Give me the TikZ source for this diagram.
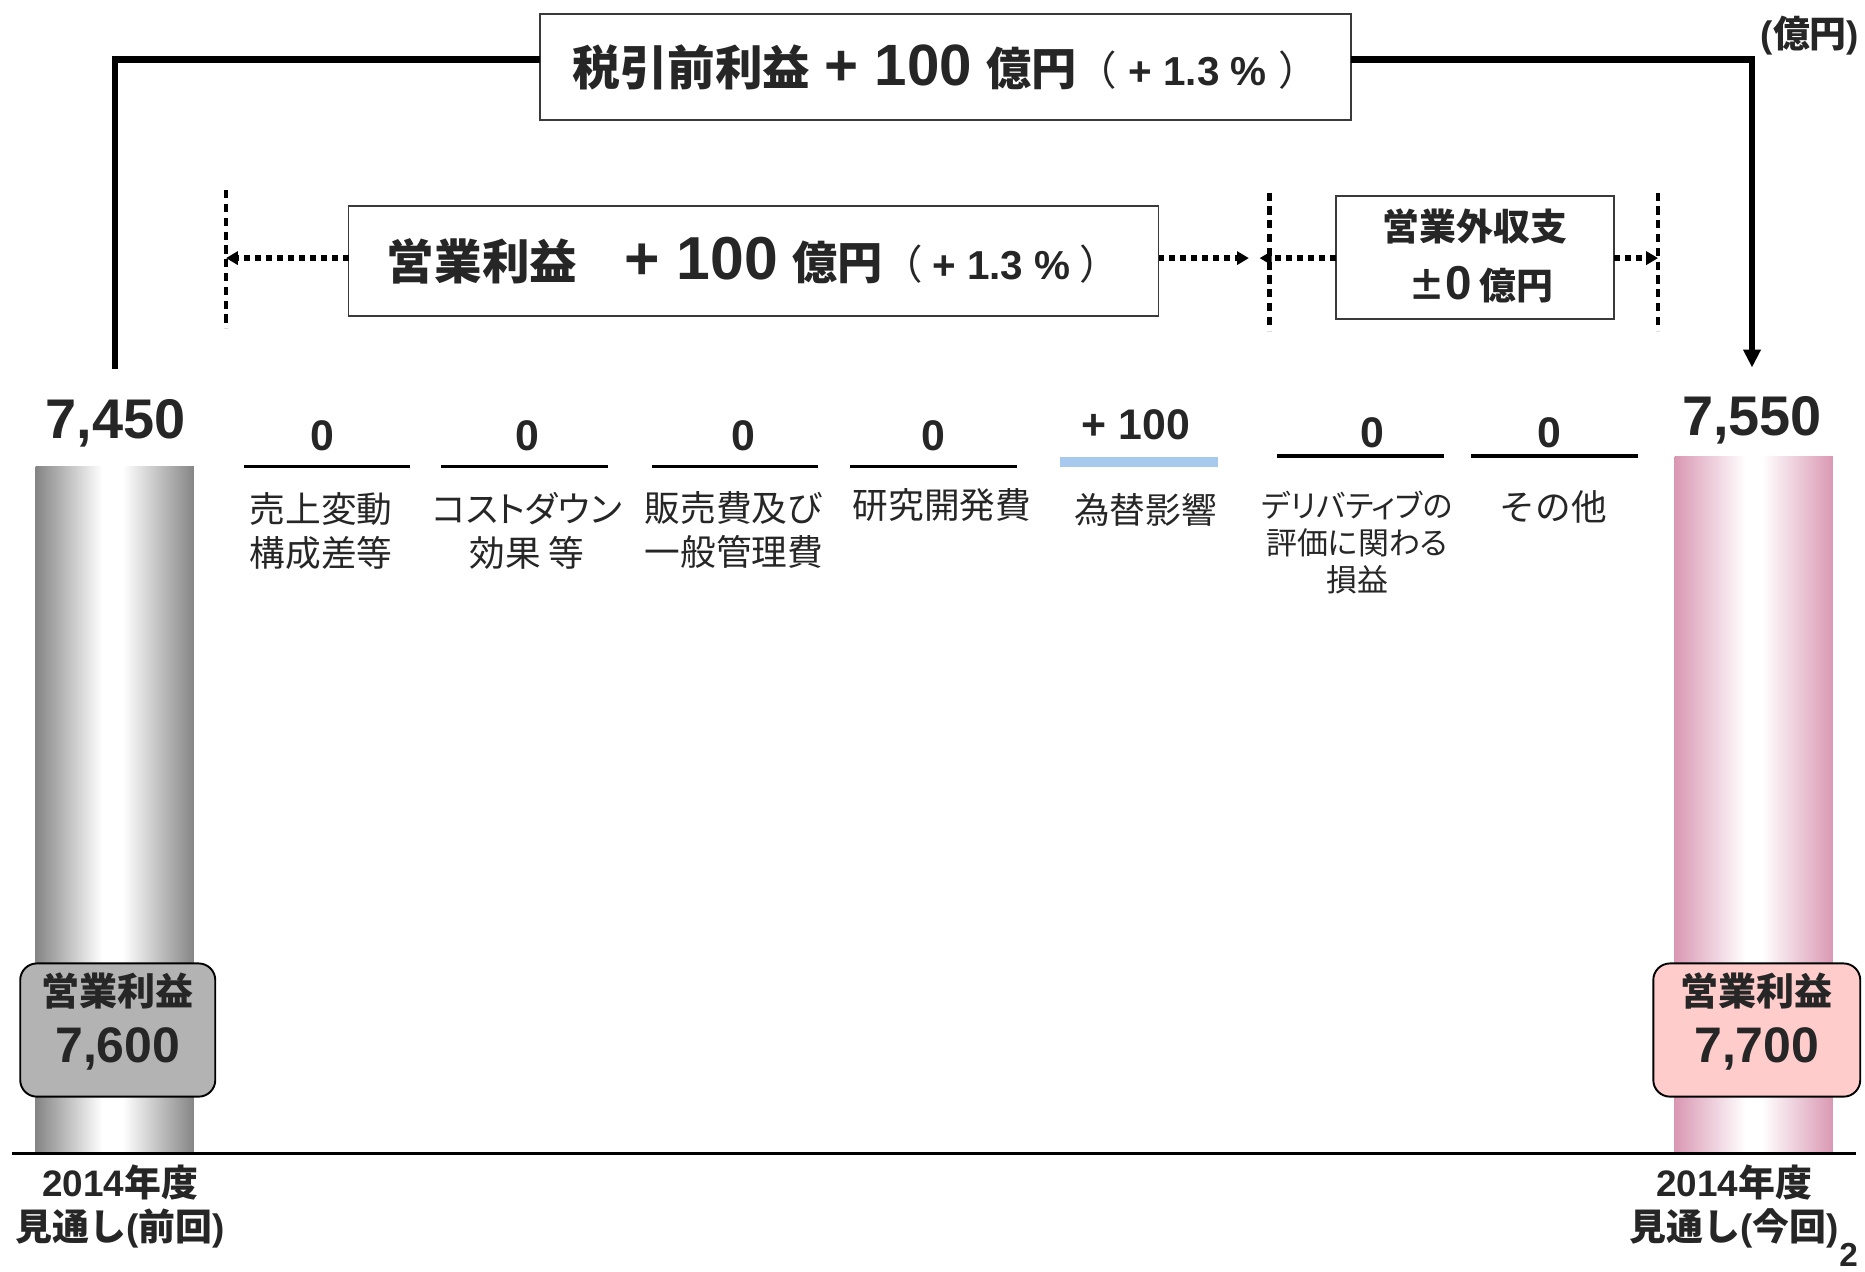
\documentclass[tikz,border=0pt]{standalone}
\usepackage{fontspec}
\setmainfont{Noto Sans CJK JP}
\newfontfamily\ar{Liberation Sans}
\newfontfamily\jpp{Noto Sans CJK JP}[RawFeature=+palt]
\usetikzlibrary{arrows.meta}
\definecolor{txt}{HTML}{262626}
\definecolor{barg}{HTML}{858585}
\definecolor{barp}{HTML}{DA98B2}
\definecolor{fxblue}{HTML}{A7C9EE}
\definecolor{lblg}{HTML}{B3B3B3}
\definecolor{lblp}{HTML}{FFCCCC}
\definecolor{boxline}{HTML}{3A3A3A}
\pgfdeclarehorizontalshading{graybar}{100bp}{color(0bp)=(barg); color(25bp)=(barg); color(46bp)=(white); color(52.5bp)=(white); color(75bp)=(barg); color(100bp)=(barg)}
\pgfdeclarehorizontalshading{pinkbar}{100bp}{color(0bp)=(barp); color(25bp)=(barp); color(47.5bp)=(white); color(52.5bp)=(white); color(75bp)=(barp); color(100bp)=(barp)}
\newcommand\fsz[2]{\fontsize{#1}{#2}\selectfont}
\begin{document}
\begin{tikzpicture}[x=0.5pt,y=-0.5pt,
  every node/.style={text=txt, inner sep=0pt, outer sep=0pt},
  bigbox/.style={draw=boxline, line width=0.8pt, fill=white},
  bracket/.style={line width=2.6pt, draw=black},
  dotv/.style={line width=2pt, dash pattern=on 3.4pt off 2.4pt},
  dota/.style={line width=2.2pt, dash pattern=on 2.4pt off 2.2pt, -{Triangle[length=5pt,width=5.5pt]}},
  uline/.style={line width=1.4pt},
  lbl/.style={font=\fsz{15pt}{18.5pt}, align=center},
  lblsmall/.style={font=\jpp\fsz{13pt}{15.5pt}, align=center},
  val/.style={font=\ar\bfseries\fsz{18pt}{21pt}},
  total/.style={font=\ar\bfseries\fsz{23.5pt}{27pt}},
  tagbox/.style={draw=black, line width=0.8pt, rounded corners=7pt},
  yearlbl/.style={font=\bfseries\fsz{15.5pt}{18.5pt}, align=center},
]
\useasboundingbox (0,0) rectangle (1568,1069.4);

% ---- top: pre-tax box and bracket
\node[bigbox, minimum width=341pt, minimum height=44.5pt] (pretax) at (795,56.5)
  {{\bfseries\fsz{20pt}{24pt}税引前利益}\hspace{6pt}{\ar\bfseries\fsz{24.5pt}{28pt}+ 100}\hspace{6pt}{\bfseries\fsz{19pt}{22pt}億円}{\fsz{17pt}{20pt}（{\ar\bfseries\ + 1.3 \%\ }）}};
\node[anchor=east, font=\bfseries\fsz{15.5pt}{18pt}] (unit) at (1563,30) {{\ar(}億円{\ar)}};

\coordinate (L0) at (97,310);
\coordinate (L1) at (97,50);
\coordinate (R1) at (1473,50);
\coordinate (R0) at (1473,309);
\draw[bracket] (L0) -- (L1) -- (L1 -| pretax.west);
\draw[bracket, -{Triangle[length=7.5pt,width=7pt]}] (R1 -| pretax.east) -- (R1) -- (R0);

% ---- second row
\node[bigbox, minimum width=340.5pt, minimum height=46.5pt] (opbox) at (633.5,219.5)
  {{\bfseries\fsz{20pt}{24pt}営業利益}\hspace{20pt}{\ar\bfseries\fsz{25.5pt}{28pt}+ 100}\hspace{6pt}{\bfseries\fsz{19pt}{22pt}億円}{\fsz{17pt}{20pt}（ {\ar\bfseries + 1.3 \%} ）}};
\node[bigbox, minimum width=117pt, minimum height=51.5pt] (nonop) at (1240,216.5) {};
\node[font=\bfseries\fsz{15.5pt}{18pt}] (nonopt) at (1240,190) {営業外収支};
\node[font=\bfseries\fsz{15.5pt}{18pt}] (nonopv) at (1245,239) {±{\ar\fsz{20pt}{22pt}0}\hspace{3pt}億円};

\coordinate (v1a) at (190,160); \coordinate (v1b) at (190,276);
\coordinate (v2a) at (1067,162); \coordinate (v2b) at (1067,278);
\coordinate (v3a) at (1394,162); \coordinate (v3b) at (1394,278);
\draw[dotv] (v1a) -- (v1b);
\draw[dotv] (v2a) -- (v2b);
\draw[dotv] (v3a) -- (v3b);
\coordinate (a1) at (190,217);
\coordinate (a2) at (1050,217);
\coordinate (a3) at (1059,217);
\coordinate (a4) at (1394,217);
\draw[dota] (opbox.west |- a1) -- (a1);
\draw[dota] (opbox.east |- a2) -- (a2);
\draw[dota] (nonop.west |- a3) -- (a3);
\draw[dota] (nonop.east |- a4) -- (a4);

% ---- bars
\shade[shading=graybar] (30,392) rectangle (163,970);
\shade[shading=pinkbar] (1408,384) rectangle (1541,970);
\node[total] (t1) at (97,356) {7,450};
\node[total] (t2) at (1473,353) {7,550};

\node[tagbox, fill=lblg, minimum width=82pt, minimum height=56pt] (tagL) at (99,866) {};
\node[font=\bfseries\fsz{16pt}{18pt}] (tagLa) at (99,833) {営業利益};
\node[font=\ar\bfseries\fsz{21pt}{24pt}] (tagLb) at (99,882) {7,600};
\node[tagbox, fill=lblp, minimum width=87pt, minimum height=56pt] (tagR) at (1477,866) {};
\node[font=\bfseries\fsz{16pt}{18pt}] (tagRa) at (1477,833) {営業利益};
\node[font=\ar\bfseries\fsz{21pt}{24pt}] (tagRb) at (1477,882) {7,700};

% baseline
\coordinate (b0) at (10,970); \coordinate (b1) at (1560,970);
\draw[line width=1.1pt] (b0) -- (b1);

\node[yearlbl] (yL) at (101,1014.5) {{\ar 2014}年度\\見通し{\ar(}前回{\ar)}};
\node[yearlbl] (yR) at (1458,1014.5) {{\ar 2014}年度\\見通し{\ar(}今回{\ar)}};
\node[anchor=east, font=\ar\bfseries\fsz{14pt}{16pt}] (pg) at (1562,1055) {2};

% ---- columns
\coordinate (u1a) at (205,392); \coordinate (u1b) at (345,392);
\coordinate (u2a) at (371,392); \coordinate (u2b) at (511,392);
\coordinate (u3a) at (548,392); \coordinate (u3b) at (688,392);
\coordinate (u4a) at (715,392); \coordinate (u4b) at (855,392);
\coordinate (u5a) at (891,388.5); \coordinate (u5b) at (1024,388.5);
\coordinate (u6a) at (1074,383.5); \coordinate (u6b) at (1214,383.5);
\coordinate (u7a) at (1237,383.5); \coordinate (u7b) at (1377,383.5);
\draw[uline] (u1a) -- (u1b);
\draw[uline] (u2a) -- (u2b);
\draw[uline] (u3a) -- (u3b);
\draw[uline] (u4a) -- (u4b);
\draw[line width=3.9pt, fxblue] (u5a) -- (u5b);
\draw[uline] (u6a) -- (u6b);
\draw[uline] (u7a) -- (u7b);

\node[val] (n1) at (271,366) {0};
\node[val] (n2) at (443,366) {0};
\node[val] (n3) at (625,366) {0};
\node[val] (n4) at (785,366) {0};
\node[val] (n5) at (955,357) {+ 100};
\node[val] (n6) at (1154,364) {0};
\node[val] (n7) at (1303,364) {0};

\node[lbl] (l1) at (270,446.5) {売上変動\\構成差等};
\node[lbl] (l2) at (443,446) {{\jpp コストダウン}\\効果 等};
\node[lbl] (l3) at (617,446) {販売費及び\\一般管理費};
\node[lbl] (l4) at (792,425) {研究開発費};
\node[lbl] (l5) at (963,429) {為替影響};
\node[lblsmall] (l6) at (1141,456) {デリバティブの\\評価に関わる\\損益};
\node[lbl] (l7) at (1306,426) {その他};
\end{tikzpicture}
\end{document}
